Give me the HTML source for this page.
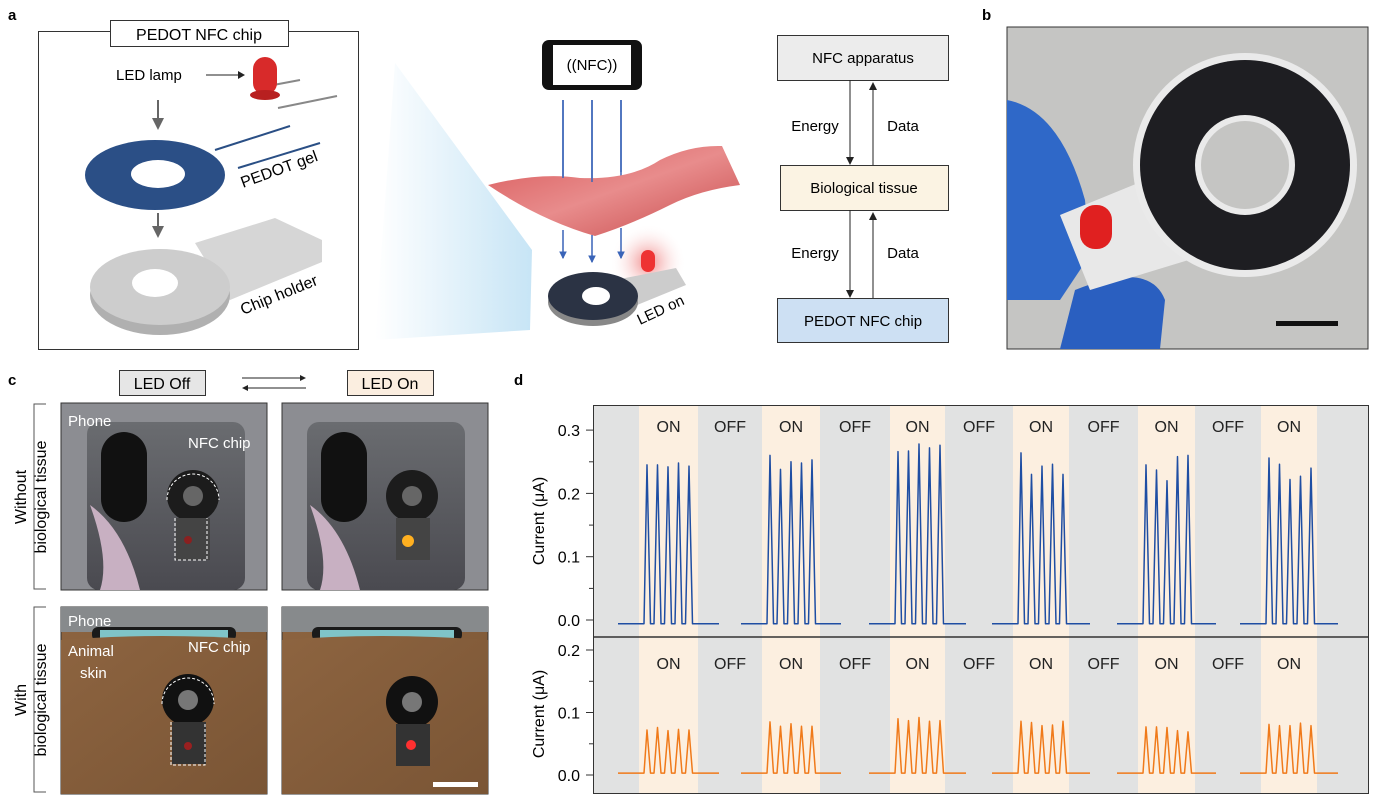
<!DOCTYPE html>
<html><head><meta charset="utf-8"><style>
html,body{margin:0;padding:0;background:#fff}
svg{display:block;font-family:"Liberation Sans",Arial,sans-serif}
</style></head><body>
<svg id="s" width="1375" height="805" viewBox="0 0 1375 805" xmlns="http://www.w3.org/2000/svg">
<defs>
<linearGradient id="beam" x1="0" y1="0" x2="1" y2="0"><stop offset="0" stop-color="#fff"/><stop offset="1" stop-color="#b9def3"/></linearGradient>
<radialGradient id="glow" cx="0.5" cy="0.5" r="0.5"><stop offset="0" stop-color="#f08a8a"/><stop offset="1" stop-color="#fff" stop-opacity="0"/></radialGradient>
<linearGradient id="tis" x1="0" y1="0" x2="1" y2="1"><stop offset="0" stop-color="#d9595a"/><stop offset="0.5" stop-color="#e88c8c"/><stop offset="1" stop-color="#c84a4b"/></linearGradient>
<linearGradient id="ph" x1="0" y1="0" x2="0" y2="1"><stop offset="0" stop-color="#6a6c70"/><stop offset="1" stop-color="#4a4a50"/></linearGradient>
<linearGradient id="skin" x1="0" y1="0" x2="1" y2="1"><stop offset="0" stop-color="#8d6440"/><stop offset="1" stop-color="#7a5535"/></linearGradient>
</defs>
<!-- panel a -->
<text x="8" y="20" font-size="15" font-weight="bold">a</text>
<path d="M375 340 L395 63 L532 250 L530 330Z" fill="url(#beam)" opacity="0.8"/>
<rect x="38.5" y="31.5" width="320" height="318" fill="#fff" stroke="#333" stroke-width="1"/>
<rect x="110.5" y="20.5" width="178" height="26" fill="#fff" stroke="#333"/>
<text x="199" y="40" font-size="16" text-anchor="middle">PEDOT NFC chip</text>
<text x="116" y="80" font-size="15">LED lamp</text>
<line x1="206" y1="75" x2="238" y2="75" stroke="#222"/><path d="M238 71 L245 75 L238 79Z" fill="#222"/>
<path d="M268 86 L300 80 M278 108 L337 96" stroke="#888" stroke-width="2"/>
<rect x="253" y="57" width="24" height="38" rx="12" fill="#d82a2a"/><ellipse cx="265" cy="95" rx="15" ry="5" fill="#b82020"/>
<path d="M158 100 V122" stroke="#666" stroke-width="2"/><path d="M152 118 L158 130 L164 118Z" fill="#666"/>
<path d="M158 213 V230" stroke="#666" stroke-width="2"/><path d="M152 226 L158 238 L164 226Z" fill="#666"/>
<path d="M215 150 L290 126 M238 168 L320 143" stroke="#2a4f85" stroke-width="2"/>
<ellipse cx="155" cy="175" rx="70" ry="35" fill="#2b4f86"/>
<ellipse cx="158" cy="174" rx="27" ry="14" fill="#fff"/>
<text x="243" y="188" font-size="16" transform="rotate(-20 243 188)">PEDOT gel</text>
<path d="M195 243 L275 218 L322 240 L322 262 L230 300Z" fill="#d6d6d6"/>
<ellipse cx="160" cy="295" rx="70" ry="40" fill="#b0b0b0"/>
<ellipse cx="160" cy="287" rx="70" ry="38" fill="#cdcdcd"/>
<ellipse cx="155" cy="283" rx="23" ry="14" fill="#fff"/>
<text x="243" y="315" font-size="16" transform="rotate(-22 243 315)">Chip holder</text>
<!-- phone -->
<rect x="542" y="40" width="100" height="50" rx="7" fill="#111"/>
<rect x="553" y="45" width="78" height="40" fill="#fff"/>
<text x="592" y="70" font-size="15" text-anchor="middle">((NFC))</text>
<path d="M563 100 V178 M592 100 V182 M621 100 V178" stroke="#3a64b8" stroke-width="1.5"/>
<path d="M488 185 Q540 172 580 178 Q630 180 660 160 Q690 145 722 146 L740 185 Q700 190 670 205 Q630 225 595 236 Q540 220 488 185Z" fill="url(#tis)"/>
<path d="M563 100 V178 M592 100 V182 M621 100 V172" stroke="#3a64b8" stroke-width="1.5"/>
<ellipse cx="648" cy="262" rx="38" ry="38" fill="url(#glow)"/>
<path d="M563 230 V258 M592 235 V262 M621 228 V258" stroke="#3a64b8" stroke-width="1.5"/>
<path d="M563 258 l-3 -6 h6z M592 262 l-3 -6 h6z M621 258 l-3 -6 h6z" fill="#3a64b8" stroke="#3a64b8"/>
<path d="M605 282 L676 268 L686 285 L625 310Z" fill="#ccc"/>
<rect x="641" y="250" width="14" height="22" rx="7" fill="#e33"/>
<ellipse cx="593" cy="302" rx="45" ry="24" fill="#888"/>
<ellipse cx="593" cy="296" rx="45" ry="24" fill="#2b3344"/>
<ellipse cx="596" cy="296" rx="14" ry="9" fill="#fff"/>
<text x="640" y="325" font-size="15" transform="rotate(-25 640 325)">LED on</text>
<!-- flow -->
<rect x="777.5" y="35.5" width="171" height="45" fill="#ececec" stroke="#333"/>
<text x="863" y="63" font-size="15" text-anchor="middle">NFC apparatus</text>
<rect x="780.5" y="165.5" width="168" height="45" fill="#fbf3e3" stroke="#333"/>
<text x="864" y="193" font-size="15" text-anchor="middle">Biological tissue</text>
<rect x="777.5" y="298.5" width="171" height="44" fill="#cde0f3" stroke="#333"/>
<text x="863" y="326" font-size="15" text-anchor="middle">PEDOT NFC chip</text>
<path d="M850 80 V160 M850 210 V291 M873 90 V165 M873 220 V298" stroke="#222"/>
<path d="M846 157 L850 165 L854 157Z M846 290 L850 298 L854 290Z M869 90 L873 82 L877 90Z M869 220 L873 212 L877 220Z" fill="#222"/>
<text x="815" y="131" font-size="15" text-anchor="middle">Energy</text>
<text x="903" y="131" font-size="15" text-anchor="middle">Data</text>
<text x="815" y="258" font-size="15" text-anchor="middle">Energy</text>
<text x="903" y="258" font-size="15" text-anchor="middle">Data</text>
<!-- panel b -->
<text x="982" y="20" font-size="15" font-weight="bold">b</text>
<rect x="1007" y="27" width="361" height="322" fill="#c5c5c3" stroke="#333"/>
<path d="M1007 100 Q1060 110 1085 200 L1090 255 L1060 300 L1007 300Z" fill="#2f68c8"/>
<path d="M1075 290 Q1150 260 1165 300 L1160 349 L1060 349Z" fill="#2a5fc0"/>
<path d="M1060 215 L1170 170 L1205 255 L1090 290Z" fill="#e8e8e8"/>
<circle cx="1245" cy="165" r="112" fill="#eaeaea"/>
<circle cx="1245" cy="165" r="105" fill="#1e1e22"/>
<circle cx="1245" cy="165" r="50" fill="#eaeaea"/>
<circle cx="1245" cy="165" r="44" fill="#c5c5c3"/>
<rect x="1080" y="205" width="32" height="44" rx="15" fill="#e02020"/>
<rect x="1276" y="321" width="62" height="5" fill="#111"/>
<!-- panel c -->
<text x="8" y="385" font-size="15" font-weight="bold">c</text>
<rect x="119.5" y="370.5" width="86" height="25" fill="#e6e6e6" stroke="#333"/>
<text x="162" y="389" font-size="16" text-anchor="middle">LED Off</text>
<rect x="347.5" y="370.5" width="86" height="25" fill="#fbeee0" stroke="#333"/>
<text x="390" y="389" font-size="16" text-anchor="middle">LED On</text>
<path d="M242 378 H303 M245 388 H306" stroke="#222"/><path d="M300 375 L306 378 L300 381Z M248 385 L242 388 L248 391Z" fill="#222"/>
<path d="M46 404 H34 V589 H46 M46 607 H34 V792 H46" fill="none" stroke="#555"/>
<text transform="translate(26 497) rotate(-90)" font-size="16" text-anchor="middle">Without</text>
<text transform="translate(46 497) rotate(-90)" font-size="16" text-anchor="middle">biological tissue</text>
<text transform="translate(26 700) rotate(-90)" font-size="16" text-anchor="middle">With</text>
<text transform="translate(46 700) rotate(-90)" font-size="16" text-anchor="middle">biological tissue</text>
<g>
<rect x="61" y="403" width="206" height="187" fill="#8c8d92" stroke="#333"/>
<rect x="87" y="422" width="158" height="168" rx="12" fill="url(#ph)"/>
<path d="M90 505 Q110 560 100 590 L140 590 Q125 530 90 505Z" fill="#c8b0c2"/>
<rect x="101" y="432" width="46" height="90" rx="23" fill="#111"/>
<circle cx="193" cy="496" r="26" fill="#1c1c1c"/><circle cx="193" cy="496" r="10" fill="#666"/>
<rect x="176" y="518" width="34" height="42" fill="#444"/><circle cx="188" cy="540" r="4" fill="#8a2020"/>
<path d="M175 518 V560 H207 V518 M167 500 A26 26 0 1 1 219 500" fill="none" stroke="#fff" stroke-dasharray="3 2"/>
<text x="68" y="426" font-size="15" fill="#fff">Phone</text>
<text x="188" y="448" font-size="15" fill="#fff">NFC chip</text>
</g>
<g>
<rect x="282" y="403" width="206" height="187" fill="#8c8d92" stroke="#333"/>
<rect x="307" y="422" width="158" height="168" rx="12" fill="url(#ph)"/>
<path d="M310 505 Q330 560 320 590 L360 590 Q345 530 310 505Z" fill="#c8b0c2"/>
<rect x="321" y="432" width="46" height="90" rx="23" fill="#111"/>
<circle cx="412" cy="496" r="26" fill="#1c1c1c"/><circle cx="412" cy="496" r="10" fill="#666"/>
<rect x="396" y="518" width="34" height="42" fill="#444"/><circle cx="408" cy="541" r="6" fill="#ffb020"/>
</g>
<g>
<rect x="61" y="607" width="206" height="187" fill="url(#skin)" stroke="#333"/>
<rect x="61" y="607" width="206" height="25" fill="#878a8c"/>
<rect x="92" y="627" width="144" height="14" rx="6" fill="#1a1a1a"/><rect x="100" y="630" width="128" height="8" fill="#7fc4c8"/>
<path d="M61 640 Q160 632 267 640 V794 H61Z" fill="url(#skin)"/>
<circle cx="188" cy="700" r="26" fill="#111"/><circle cx="188" cy="700" r="10" fill="#777"/>
<rect x="172" y="722" width="34" height="42" fill="#333"/><circle cx="188" cy="746" r="4" fill="#9a2020"/>
<path d="M171 722 V765 H205 V722 M162 704 A26 26 0 1 1 214 704" fill="none" stroke="#fff" stroke-dasharray="3 2"/>
<text x="68" y="626" font-size="15" fill="#fff">Phone</text>
<text x="68" y="656" font-size="15" fill="#fff">Animal</text>
<text x="80" y="678" font-size="15" fill="#fff">skin</text>
<text x="188" y="652" font-size="15" fill="#fff">NFC chip</text>
</g>
<g>
<rect x="282" y="607" width="206" height="187" fill="url(#skin)" stroke="#333"/>
<rect x="282" y="607" width="206" height="25" fill="#878a8c"/>
<rect x="312" y="627" width="150" height="14" rx="6" fill="#1a1a1a"/><rect x="320" y="630" width="134" height="8" fill="#7fc4c8"/>
<path d="M282 640 Q380 632 488 640 V794 H282Z" fill="url(#skin)"/>
<circle cx="412" cy="702" r="26" fill="#111"/><circle cx="412" cy="702" r="10" fill="#777"/>
<rect x="396" y="724" width="34" height="42" fill="#333"/><circle cx="411" cy="745" r="5" fill="#ff3030"/>
<rect x="433" y="782" width="45" height="5" fill="#fff"/>
</g>
<!-- panel d -->
<text x="514" y="385" font-size="15" font-weight="bold">d</text>
<rect x="593" y="405" width="775" height="388" fill="#e1e2e2"/>
<g id="bands"></g>
<g id="lines"></g>
<rect x="593.5" y="405.5" width="775" height="388" fill="none" stroke="#333"/>
<line x1="593" y1="637" x2="1368" y2="637" stroke="#333" stroke-width="1.5"/>
<g id="ax" font-size="16"></g>
<text transform="translate(544 521) rotate(-90)" font-size="16" text-anchor="middle">Current (μA)</text>
<text transform="translate(544 714) rotate(-90)" font-size="16" text-anchor="middle">Current (μA)</text>
</svg>
<script>
var NS="http://www.w3.org/2000/svg";
function el(p,t,a,txt){var e=document.createElementNS(NS,t);for(var k in a)e.setAttribute(k,a[k]);if(txt)e.textContent=txt;p.appendChild(e);return e;}
var bands=[[639,698],[762,820],[890,945],[1013,1069],[1138,1195],[1261,1317]];
var bg=document.getElementById('bands'),lg=document.getElementById('lines'),ax=document.getElementById('ax');
bands.forEach(function(b){el(bg,'rect',{x:b[0],y:406,width:b[1]-b[0],height:387,fill:'#fcefe0'});});
var lab=[];bands.forEach(function(b,i){lab.push([(b[0]+b[1])/2,'ON']);if(i<5)lab.push([(b[1]+bands[i+1][0])/2,'OFF']);});
lab.forEach(function(l){el(ax,'text',{x:l[0],y:432,'text-anchor':'middle','font-size':16,fill:'#222'},l[1]);el(ax,'text',{x:l[0],y:669,'text-anchor':'middle','font-size':16,fill:'#222'},l[1]);});
var B=[[.245,.245,.242,.248,.243],[.26,.238,.25,.248,.253],[.266,.267,.278,.272,.276],[.264,.23,.243,.246,.23],[.245,.237,.22,.258,.26],[.256,.246,.222,.227,.24]];
var O=[[.072,.076,.071,.073,.072],[.085,.078,.082,.078,.078],[.09,.087,.092,.086,.087],[.086,.084,.079,.08,.086],[.077,.077,.076,.071,.069],[.081,.079,.079,.083,.079]];
function draw(H,y0,sc,base,col,w){bands.forEach(function(b,i){var s=b[0]+8,d='M'+(b[0]-21)+' '+(y0-base*sc)+' L'+(s-3)+' '+(y0-base*sc);
 H[i].forEach(function(h,j){var x=s+j*10.5;d+=' L'+(x)+' '+(y0-h*sc)+' L'+(x+3.5)+' '+(y0-base*sc)+' L'+(x+7)+' '+(y0-base*sc);});
 d+=' L'+(b[1]+21)+' '+(y0-base*sc);el(lg,'path',{d:d,fill:'none',stroke:col,'stroke-width':w,'stroke-linejoin':'round'});});}
draw(B,620,633,-0.006,'#1f4ea3',1.5);
draw(O,775,625,0.003,'#f07a1a',1.5);
[[0,'0.0'],[.1,'0.1'],[.2,'0.2'],[.3,'0.3']].forEach(function(t){var y=620-t[0]*633;el(ax,'line',{x1:586,x2:593,y1:y,y2:y,stroke:'#333'});el(ax,'text',{x:580,y:y+6,'text-anchor':'end'},t[1]);
 if(t[0]<.3)el(ax,'line',{x1:589,x2:593,y1:y-31.6,y2:y-31.6,stroke:'#333'});});
[[0,'0.0'],[.1,'0.1'],[.2,'0.2']].forEach(function(t){var y=775-t[0]*625;el(ax,'line',{x1:586,x2:593,y1:y,y2:y,stroke:'#333'});el(ax,'text',{x:580,y:y+6,'text-anchor':'end'},t[1]);
 if(t[0]<.2)el(ax,'line',{x1:589,x2:593,y1:y-31.2,y2:y-31.2,stroke:'#333'});});
</script>
</body></html>
